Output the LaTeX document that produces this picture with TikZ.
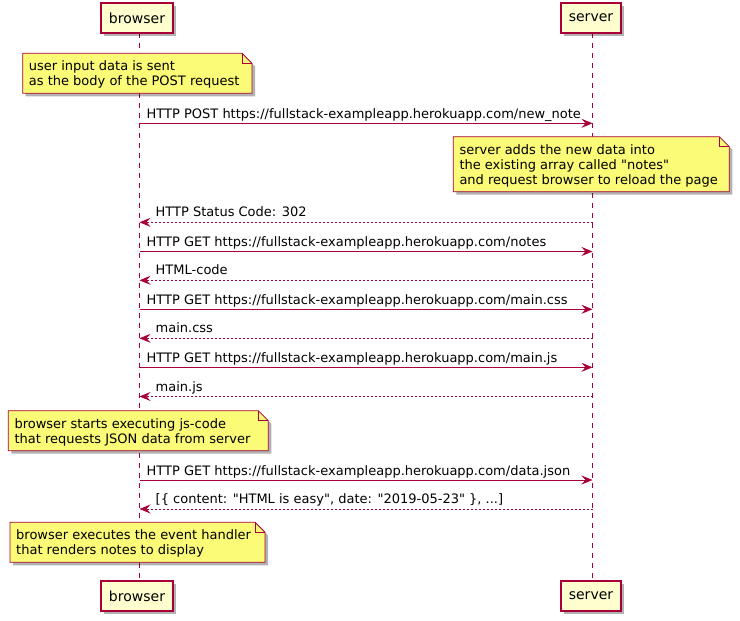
\documentclass[tikz,border=0pt]{standalone}
\usepackage{fontspec}
\setmainfont{DejaVu Sans}[Ligatures=TeXOff]
\usetikzlibrary{arrows.meta,shadows}
\definecolor{umlred}{HTML}{A80036}
\definecolor{partfill}{HTML}{FEFECE}
\definecolor{notefill}{HTML}{FBFB77}
\newcommand\umlnote[6]{%
  % #1 x1, #2 y1, #3 x2, #4 y2, #5 name, #6 text lines
  \path[notebox] (#1,#2) -- (#3-10,#2) -- (#3,#2+10) -- (#3,#4) -- (#1,#4) -- cycle;
  \draw[umlred, line width=0.8pt] (#3-10,#2) -- (#3-10,#2+10) -- (#3,#2+10);
  \node[notetext] (#5) at (#1+6,#2+7.3) {#6};
}
\begin{document}
\begin{tikzpicture}[x=1pt,y=-1pt,
  shad/.style={drop shadow={shadow xshift=3pt, shadow yshift=-3pt, opacity=0.3, fill=black, draw=none}},
  part/.style={shad, draw=umlred, fill=partfill, line width=1.2pt, minimum height=30pt,
    inner sep=0pt, font=\fontsize{14}{16}\selectfont},
  lifeline/.style={draw=umlred, line width=0.9pt, dash pattern=on 5pt off 5pt},
  notebox/.style={shad, draw=umlred, fill=notefill, line width=0.8pt},
  notetext/.style={anchor=north west, inner sep=0pt, align=left,
    font=\fontsize{13}{15}\selectfont},
  msg/.style={draw=umlred, line width=0.9pt,
    -{Stealth[length=11pt, width=9pt, inset=4pt]}},
  ret/.style={msg, dash pattern=on 2pt off 2pt},
  lbl/.style={anchor=base west, inner sep=0pt, font=\fontsize{13}{15}\selectfont},
]
\useasboundingbox (0,0) rectangle (740,621);

% lifelines
\coordinate (btop) at (139.5,33);
\coordinate (bbot) at (139.5,580);
\coordinate (stop) at (592.5,33);
\coordinate (sbot) at (592.5,580);
\draw[lifeline] (btop) -- (bbot);
\draw[lifeline] (stop) -- (sbot);

% participants
\node[part, minimum width=72pt] (pb1) at (137,18) {browser};
\node[part, minimum width=60pt] (ps1) at (591,18) {server};
\node[part, minimum width=72pt] (pb2) at (137,596) {browser};
\node[part, minimum width=60pt] (ps2) at (591,596) {server};

% notes
\umlnote{22.7}{53.3}{252}{93.3}{n1}{user input data is sent\\as the body of the POST request}
\umlnote{453.3}{136.7}{729.3}{191.7}{n2}{server adds the new data into\\the existing array called "notes"\\and request browser to reload the page}
\umlnote{8.3}{410.7}{268.3}{450.7}{n3}{browser starts executing js-code\\that requests JSON data from server}
\umlnote{10}{522.3}{265}{562.3}{n4}{browser executes the event handler\\that renders notes to display}

% message anchors
\foreach \i/\y in {1/123.3, 2/222.3, 3/251.5, 4/280.3, 5/309.3, 6/338.3, 7/367.3, 8/396.5, 9/480, 10/509}{
  \coordinate (b\i) at (139.5,\y);
  \coordinate (s\i) at (592.5,\y);
}

\draw[msg] (b1) -- (s1);
\node[lbl] (m1) at ([shift={(7,-5)}]b1) {HTTP POST https://fullstack-exampleapp.herokuapp.com/new\_note};
\draw[ret] (s2) -- (b2);
\node[lbl] (m2) at ([shift={(16,-5.5)}]b2) {HTTP Status Code: 302};
\draw[msg] (b3) -- (s3);
\node[lbl] (m3) at ([shift={(7,-5)}]b3) {HTTP GET https://fullstack-exampleapp.herokuapp.com/notes};
\draw[ret] (s4) -- (b4);
\node[lbl] (m4) at ([shift={(16,-5.5)}]b4) {HTML-code};
\draw[msg] (b5) -- (s5);
\node[lbl] (m5) at ([shift={(7,-5)}]b5) {HTTP GET https://fullstack-exampleapp.herokuapp.com/main.css};
\draw[ret] (s6) -- (b6);
\node[lbl] (m6) at ([shift={(16,-5.5)}]b6) {main.css};
\draw[msg] (b7) -- (s7);
\node[lbl] (m7) at ([shift={(7,-5)}]b7) {HTTP GET https://fullstack-exampleapp.herokuapp.com/main.js};
\draw[ret] (s8) -- (b8);
\node[lbl] (m8) at ([shift={(16,-5.5)}]b8) {main.js};
\draw[msg] (b9) -- (s9);
\node[lbl] (m9) at ([shift={(7,-5)}]b9) {HTTP GET https://fullstack-exampleapp.herokuapp.com/data.json};
\draw[ret] (s10) -- (b10);
\node[lbl] (m10) at ([shift={(16,-5.5)}]b10) {[\{ content: "HTML is easy", date: "2019-05-23" \}, ...]};
\end{tikzpicture}
\end{document}
